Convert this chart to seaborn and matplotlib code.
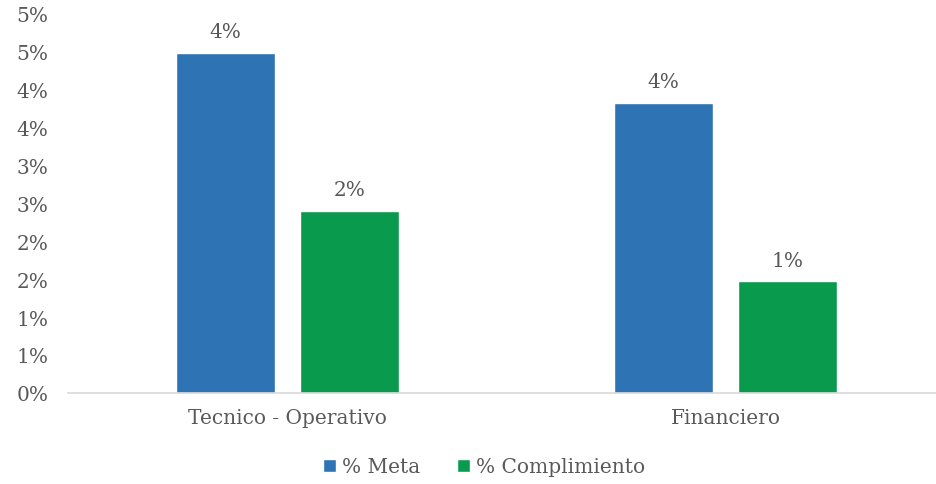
import pandas as pd
import matplotlib
matplotlib.use("Agg")
import matplotlib.pyplot as plt
import seaborn as sns

# Data
categories = ["Tecnico - Operativo", "Financiero"]
series_names = ["% Meta", "% Complimiento"]
meta_values = [0.0449, 0.0383]
compl_values = [0.0240, 0.0147]
meta_labels = ["4%", "4%"]
compl_labels = ["2%", "1%"]
y_ticks = [0.0, 0.005, 0.01, 0.015, 0.02, 0.025, 0.03, 0.035, 0.04, 0.045, 0.05]
y_tick_labels = ["0%", "1%", "1%", "2%", "2%", "3%", "3%", "4%", "4%", "5%", "5%"]

colors = ["#2E74B5", "#0A9A4E"]
text_color = "#595959"
fs = 14.5

df = pd.DataFrame({
    "categoria": categories * 2,
    "serie": [series_names[0]] * 2 + [series_names[1]] * 2,
    "valor": meta_values + compl_values,
})

sns.set_theme(style="white")
plt.rcParams["font.family"] = ["DejaVu Serif"]

fig = plt.figure(figsize=(9.37, 4.85), dpi=100)
ax = fig.add_axes([68 / 937, (485 - 393.8) / 485, 877 / 937, (393.8 - 15) / 485])

sns.barplot(
    data=df, x="categoria", y="valor", hue="serie",
    order=categories, hue_order=series_names,
    palette=colors, width=0.566, gap=0.2,
    saturation=1, errorbar=None, ax=ax,
)

# Value labels above each bar
for container, labels in zip(ax.containers, [meta_labels, compl_labels]):
    ax.bar_label(container, labels=labels, padding=8.5, fontsize=fs, color=text_color)

ax.set_ylim(0, 0.05)
ax.set_yticks(y_ticks)
ax.set_yticklabels(y_tick_labels, fontsize=fs, color=text_color)
ax.tick_params(axis="x", labelsize=fs, colors=text_color, length=0, pad=11)
ax.tick_params(axis="y", length=0, pad=14)
ax.set_xlabel("")
ax.set_ylabel("")

for side in ["left", "right", "top"]:
    ax.spines[side].set_visible(False)
ax.spines["bottom"].set_color("#D9D9D9")
ax.spines["bottom"].set_linewidth(1.2)

handles, labels = ax.get_legend_handles_labels()
ax.legend_.remove()
fig.legend(
    handles, labels, loc="center", bbox_to_anchor=(484 / 937, 1 - 468 / 485),
    ncol=2, frameon=False, fontsize=fs, labelcolor=text_color,
    handlelength=0.65, handleheight=0.65, handletextpad=0.3, columnspacing=1.8,
)

fig.savefig("out.png", dpi=100, facecolor="white")
